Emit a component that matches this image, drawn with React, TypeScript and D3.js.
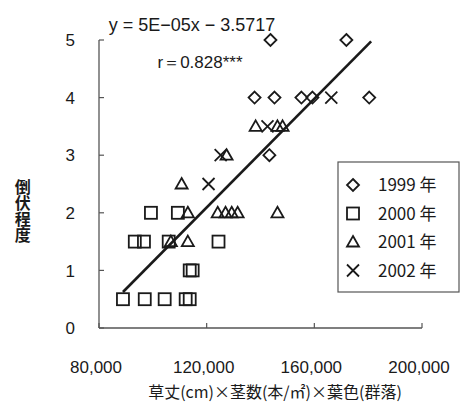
import React from "react";
import * as d3 from "d3";

const W = 462;
const H = 402;

// Data: [x value, lodging score]
const data1999: [number, number][] = [
  [143700, 5], [171900, 5], [137800, 4], [145200, 4], [155200, 4], [159300, 4], [180400, 4], [143300, 3],
];
const data2000: [number, number][] = [
  [88900, 0.5], [97000, 0.5], [104400, 0.5], [112200, 0.5], [113700, 0.5],
  [113700, 1], [114800, 1],
  [93300, 1.5], [96700, 1.5], [105900, 1.5], [124400, 1.5],
  [99300, 2], [109300, 2],
];
const data2001: [number, number][] = [
  [106700, 1.5], [113000, 1.5],
  [113000, 2], [124100, 2], [127000, 2], [129300, 2], [131500, 2], [146300, 2],
  [110700, 2.5],
  [127400, 3],
  [138200, 3.5], [146300, 3.5], [148200, 3.5],
];
const data2002: [number, number][] = [
  [120700, 2.5], [125200, 3], [142600, 3.5], [166300, 4],
];

const xTicks = [80000, 120000, 160000, 200000];
const yTicks = [0, 1, 2, 3, 4, 5];
const legendLabels = ["1999 年", "2000 年", "2001 年", "2002 年"];
const regSlope = 4.72e-5;
const regIntercept = -3.5717;
const regRange = [88900, 181100];

const ink = "#1a1a1a";
const axisColor = "#555";
const numFont = "'Liberation Sans', Arial, sans-serif";
const jpFont = "'Noto Sans CJK JP', sans-serif";

function Marker({ kind, x, y }: { kind: number; x: number; y: number }) {
  const s = 6;
  const common = { fill: "none", stroke: ink, strokeWidth: 1.8 };
  if (kind === 0) {
    return <path d={`M${x},${y - s} L${x + s},${y} L${x},${y + s} L${x - s},${y} Z`} {...common} />;
  }
  if (kind === 1) {
    return <rect x={x - s} y={y - s} width={2 * s} height={2 * s} {...common} />;
  }
  if (kind === 2) {
    return <path d={`M${x},${y - s} L${x + s},${y + s * 0.75} L${x - s},${y + s * 0.75} Z`} {...common} />;
  }
  return <path d={`M${x - s},${y - s} L${x + s},${y + s} M${x + s},${y - s} L${x - s},${y + s}`} {...common} />;
}

export default function App() {
  const x = d3.scaleLinear().domain([80000, 200000]).range([99, 422]);
  const y = d3.scaleLinear().domain([0, 5]).range([328, 40]);
  const series = [data1999, data2000, data2001, data2002];
  const fmt = d3.format(",");
  const line = d3
    .line<number>()
    .x((d) => x(d))
    .y((d) => y(regSlope * d + regIntercept));

  return (
    <svg
      width={W}
      height={H}
      style={{ position: "absolute", left: 0, top: 0, background: "#fff" }}
    >
      <rect x={0} y={0} width={W} height={H} fill="#fff" />
      {/* axes */}
      <line x1={x(80000)} x2={x(80000)} y1={y(0)} y2={y(5)} stroke={axisColor} strokeWidth={1.3} />
      <line x1={x(80000)} x2={x(200000)} y1={y(0)} y2={y(0)} stroke={axisColor} strokeWidth={1.3} />
      {yTicks.map((t) => (
        <g key={"yt" + t}>
          <line x1={x(80000)} x2={x(80000) + 5} y1={y(t)} y2={y(t)} stroke={axisColor} strokeWidth={1.2} />
          <text x={75} y={y(t)} dy="0.36em" textAnchor="end" fontFamily={numFont} fontSize={17} fill={ink}>
            {t}
          </text>
        </g>
      ))}
      {xTicks.map((t) => (
        <g key={"xt" + t}>
          <line x1={x(t)} x2={x(t)} y1={y(0)} y2={y(0) - 5} stroke={axisColor} strokeWidth={1.2} />
          <text x={x(t) - 3} y={367} dy="0.36em" textAnchor="middle" fontFamily={numFont} fontSize={17} fill={ink}>
            {fmt(t)}
          </text>
        </g>
      ))}
      {/* regression line */}
      <path d={line(regRange) || ""} fill="none" stroke={ink} strokeWidth={2.6} />
      {/* points */}
      {series.map((s, i) =>
        s.map((d, j) => <Marker key={i + "-" + j} kind={i} x={x(d[0])} y={y(d[1])} />)
      )}
      {/* equation */}
      <text x={192} y={25} dy="0.36em" textAnchor="middle" fontFamily={numFont} fontSize={18} fill={ink}>
        y = 5E−05x − 3.5717
      </text>
      <text x={200} y={62} dy="0.36em" textAnchor="middle" fontFamily={numFont} fontSize={17} fill={ink}>
        r＝0.828***
      </text>
      {/* legend */}
      <rect x={338} y={162} width={121} height={130} fill="#fff" stroke={axisColor} strokeWidth={1.2} />
      {legendLabels.map((l, i) => (
        <g key={l}>
          <Marker kind={i} x={353} y={185 + i * 28.5} />
          <text x={378} y={185 + i * 28.5} dy="0.36em" fontFamily={jpFont} fontSize={17} fill={ink}>
            {l}
          </text>
        </g>
      ))}
      {/* axis titles */}
      <text
        x={20}
        y={211}
        textAnchor="middle"
        fontFamily={jpFont}
        fontSize={16}
        fontWeight={700}
        fill={ink}
        style={{ writingMode: "vertical-rl" as any }}
        dominantBaseline="middle"
      >
        {"倒伏程度"}
      </text>
      <text x={275} y={392} dy="0.36em" textAnchor="middle" fontFamily={jpFont} fontSize={16} fill={ink}>
        草丈(cm)×茎数(本/㎡)×葉色(群落)
      </text>
    </svg>
  );
}
